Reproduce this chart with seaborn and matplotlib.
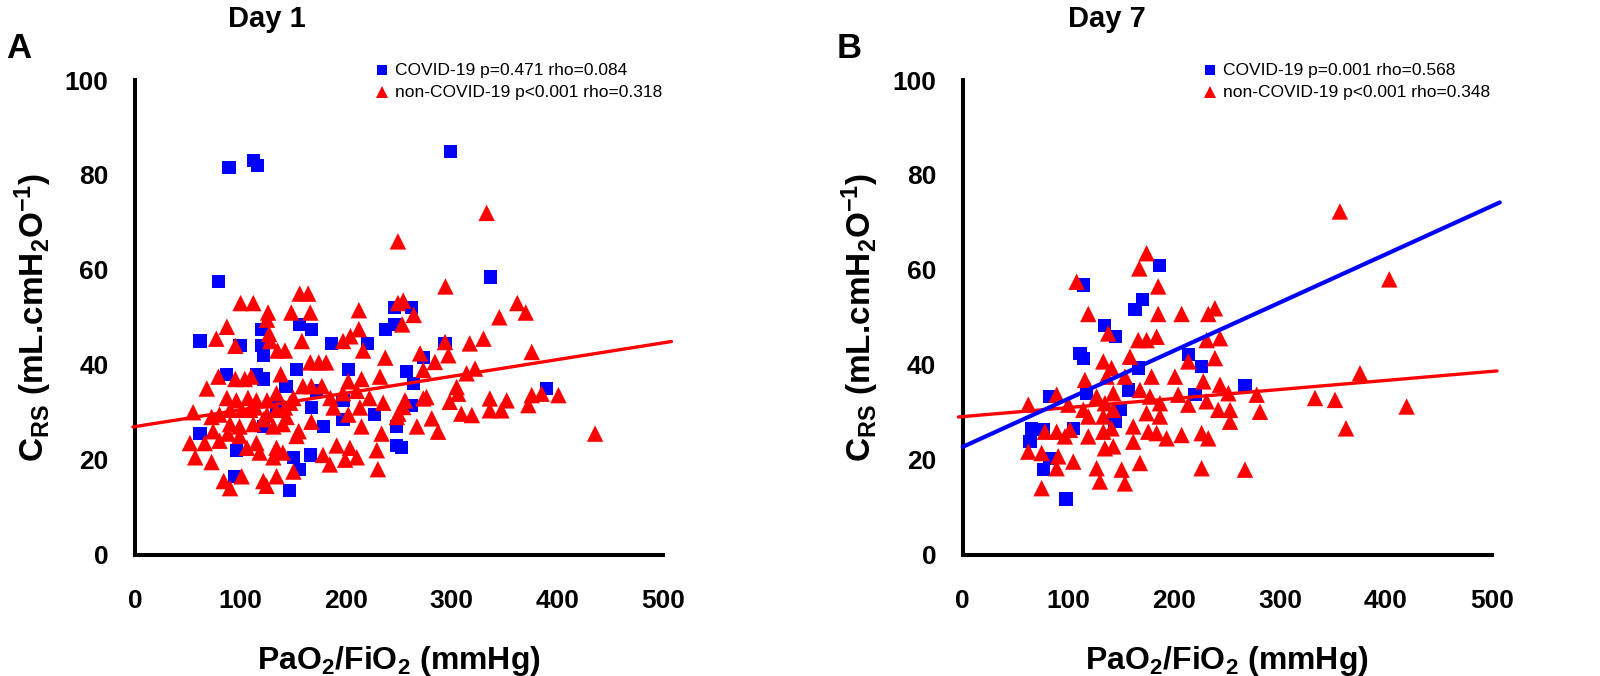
import numpy as np
import pandas as pd
import matplotlib
matplotlib.use("Agg")
import matplotlib.pyplot as plt
from matplotlib import font_manager
from matplotlib.lines import Line2D
import seaborn as sns

# ---------------- data ----------------
panel_letters = ["A", "B"]
panel_titles = ["Day 1", "Day 7"]
legend_a = ["COVID-19 p=0.471 rho=0.084", "non-COVID-19 p<0.001 rho=0.318"]
legend_b = ["COVID-19 p=0.001 rho=0.568", "non-COVID-19 p<0.001 rho=0.348"]
x_ticks = [0, 100, 200, 300, 400, 500]
y_ticks = [0, 20, 40, 60, 80, 100]

a_covid_x = [89, 112, 116, 79, 246, 298.5, 337, 262, 61.5, 99.5, 120, 122, 120, 156, 167, 186, 220, 237,
             153, 202, 87, 115, 122, 143, 171.5, 257, 167, 197, 134.5, 227, 178.5, 197, 247.5, 61.5, 96.5,
             122, 150, 156, 166, 247.5, 252.5, 94.5, 146, 390, 262, 263.5, 273, 293.5, 246]
a_covid_y = [81.5, 83, 82, 57.5, 52, 85, 58.5, 52, 45, 44, 44, 42, 47.5, 48.5, 47.5, 44.5, 44.5, 47.5,
             39, 39, 38, 38, 37, 35.5, 34.5, 38.5, 31, 32.5, 31, 29.5, 27, 28.5, 27, 25.5, 22,
             27, 20.5, 18, 21, 23, 22.5, 16.5, 13.5, 35, 31.5, 36, 41.5, 44.5, 48.5]

a_non_x = [249, 100, 112, 156, 164, 126, 148, 166, 212, 249, 254, 333, 294, 362, 370, 345, 264,
           87, 125, 253, 212, 77, 95, 127, 128, 135, 142, 158, 197, 204, 216, 237, 166, 174, 181, 138,
           68, 79, 95, 104, 110, 159, 167, 177, 202, 214.5, 232, 55, 87, 96, 107,
           80, 90, 101, 114, 125, 134, 142, 150, 147, 185, 197, 210, 222, 235, 188, 213, 202, 214.5,
           233.5, 248, 167, 52, 66, 57, 72.5, 80, 88, 99, 106, 115, 118, 134, 131, 140, 155, 153, 178,
           191, 203.5, 184.5, 199, 210, 229, 230, 150, 134, 121.5, 124.5, 101, 84, 90, 90, 99, 112,
           121.5, 131, 140, 115, 125, 134, 143.5, 72.5, 74, 109,
           293.6, 317, 330, 375.7, 270, 296.7, 284, 273, 314, 322, 304.6, 306, 298, 273, 276, 255.7,
           254, 249.4, 336, 352, 336, 347, 309, 319, 281, 267, 287, 375.7, 385, 401, 372.5, 435.7]
a_non_y = [66, 53, 53, 55, 55, 51, 51, 51, 51.5, 53, 53.5, 72, 56.5, 53, 51, 50, 50.5,
           48, 49.5, 48.5, 47.5, 45.5, 44, 46.5, 45, 43, 43, 45, 45, 46, 43, 41.5, 40.5, 40.5, 40.5, 38,
           35, 37.5, 37, 37, 37.5, 35.5, 35.5, 35.5, 36.5, 37, 37.5, 30, 33, 32.5, 33,
           29.5, 30.5, 30.5, 31, 29.5, 30.5, 31, 33, 32, 33, 34, 34.5, 33, 32, 31, 31, 29.5, 27,
           25.5, 29, 28, 23.5, 23.5, 20.5, 19.5, 24, 25.5, 25, 22.5, 23.5, 21.5, 22.5, 20.5, 21.5, 26, 25, 21,
           23, 22.5, 19, 20, 20.5, 22, 18, 17.5, 16.5, 15.5, 14.5, 16.5, 15.5, 14, 27.5, 27, 27.5,
           28.5, 27, 27.5, 32.5, 32.5, 34, 29, 29, 26, 30.5,
           44.8, 44.5, 45.5, 42.7, 42.4, 42, 40.6, 38.9, 38.2, 39.2, 35.3, 33.9, 32.2, 32.9, 33.2, 32.5,
           31.1, 29.7, 32.9, 32.5, 30.4, 30.4, 29.7, 29.4, 28.7, 27, 25.9, 33.6, 33.9, 33.6, 31.5, 25.5]

b_covid_x = [185.8, 114, 170, 162.8, 133.8, 144.8, 110.8, 114, 213.2, 225.8, 165.9, 156.5, 82.5, 117.1,
             219.5, 148.6, 143.9, 104.5, 65.1, 76.2, 63.6, 82.5, 76.2, 97.6, 266.8]
b_covid_y = [61.0, 56.8, 53.7, 51.6, 48.2, 45.9, 42.4, 41.4, 42.1, 39.6, 39.3, 34.7, 33.3, 34.0,
             33.7, 30.5, 28.0, 26.6, 26.6, 26.3, 23.8, 20.3, 17.9, 11.7, 35.6]

b_non_x = [173.8, 166.9, 107.7, 184.8, 118.7, 184.8, 206.9, 232.1, 238.4, 137.6, 165.9, 173.8, 183.3,
           158.1, 132.9, 140.7, 213.2, 238.4, 115.5, 136, 153.3, 178.5, 200.6, 227.4, 88.8, 62, 99.8,
           114, 118.7, 126.6, 134.4, 142.3, 132.9, 142.3, 167.5, 177, 186.4, 203.7, 213.2, 230.5, 241.5,
           173.8, 186.4, 161.2, 77.7, 88.8, 96.6, 101.4, 118.7, 132.9, 140.7, 134.4, 142.3, 161.2, 175.4,
           183.3, 192.7, 206.9, 225.8, 232.1, 62, 74.6, 90.3, 104.5, 88.8, 126.6, 150.2, 167.5, 225.8,
           129.7, 153.3, 74.6, 403.2, 230.6, 243.2, 243.2, 251.1, 277.9, 252.7, 281, 252.7, 333, 351.9,
           375.5, 419.6, 362.3, 266.8, 356.5]
b_non_y = [63.5, 60.3, 57.5, 56.5, 50.7, 50.7, 50.7, 50.7, 51.9, 46.6, 45.2, 45.2, 45.9,
           41.7, 40.7, 39.3, 40.7, 41.4, 36.8, 37.5, 37.5, 37.5, 37.5, 36.5, 33.7, 31.6, 31.6,
           30.5, 29.1, 33.3, 31.9, 34.0, 29.1, 30.5, 34.7, 33.3, 31.9, 33.7, 31.6, 32.3, 30.5,
           29.8, 29.1, 27.0, 25.9, 25.9, 24.9, 26.3, 24.9, 25.9, 26.6, 22.4, 22.8, 23.8, 25.9,
           25.6, 24.5, 25.2, 25.6, 24.5, 21.7, 21.4, 20.7, 19.6, 18.2, 18.2, 17.9, 19.3, 18.2,
           15.4, 15.0, 14.0, 58.0, 45.2, 45.6, 35.8, 34.0, 33.7, 30.5, 30.1, 28.0, 33.0, 32.6,
           38.2, 31.2, 26.6, 17.9, 72.3]

# regression line end points
a_non_line_x = [-2, 508]
a_non_line_y = [26.9, 44.9]
b_covid_line_x = [0, 507.6]
b_covid_line_y = [22.7, 74.2]
b_non_line_x = [-4, 505]
b_non_line_y = [29.0, 38.7]

# ---------------- style ----------------
sns.set_style("white")


def have_font(name):
    try:
        font_manager.findfont(font_manager.FontProperties(family=name), fallback_to_default=False)
        return True
    except Exception:
        return False


NARROW = "Liberation Sans Narrow" if have_font("Liberation Sans Narrow") else "Liberation Sans"
REG = "Liberation Sans"
plt.rcParams["font.family"] = [NARROW, "DejaVu Sans"]
plt.rcParams["mathtext.fontset"] = "custom"
plt.rcParams["mathtext.rm"] = NARROW + ":bold"
plt.rcParams["mathtext.bf"] = NARROW + ":bold"
plt.rcParams["mathtext.it"] = NARROW + ":bold"
for key in ["text.color", "axes.labelcolor", "xtick.color", "ytick.color", "axes.edgecolor"]:
    plt.rcParams[key] = "black"

BLUE = "#0000FF"
RED = "#FF0000"
W, H = 1600, 676

fig = plt.figure(figsize=(16, 6.76), dpi=100)
fig.patch.set_facecolor("white")

y0_px, y100_px = 554.6, 80.0
axA = fig.add_axes([135 / W, (H - y0_px) / H, 528 / W, (y0_px - y100_px) / H])
axB = fig.add_axes([962.7 / W, (H - y0_px) / H, 529 / W, (y0_px - y100_px) / H])

panels = [
    (axA, a_covid_x, a_covid_y, a_non_x, a_non_y, None, (a_non_line_x, a_non_line_y)),
    (axB, b_covid_x, b_covid_y, b_non_x, b_non_y, (b_covid_line_x, b_covid_line_y), (b_non_line_x, b_non_line_y)),
]

for ax, cx, cy, nx, ny, cline, nline in panels:
    dfc = pd.DataFrame({"x": cx, "y": cy})
    dfn = pd.DataFrame({"x": nx, "y": ny})
    sns.scatterplot(data=dfc, x="x", y="y", ax=ax, marker="s", s=90, color=BLUE,
                    edgecolor="none", linewidth=0, zorder=3)
    sns.scatterplot(data=dfn, x="x", y="y", ax=ax, marker="^", s=140, color=RED,
                    edgecolor="none", linewidth=0, zorder=4)
    sns.lineplot(x=nline[0], y=nline[1], ax=ax, color=RED, linewidth=2.4, zorder=5)
    if cline is not None:
        sns.lineplot(x=cline[0], y=cline[1], ax=ax, color=BLUE, linewidth=3.0, zorder=6)
    for ln in ax.lines:
        ln.set_clip_on(False)
    ax.set_xlim(0, 500)
    ax.set_ylim(0, 100)
    ax.set_xticks(x_ticks)
    ax.set_yticks(y_ticks)
    ax.set_xticklabels([str(t) for t in x_ticks], fontsize=19, fontweight="bold", family=NARROW)
    ax.set_yticklabels([str(t) for t in y_ticks], fontsize=19, fontweight="bold", family=NARROW)
    for side in ["top", "right"]:
        ax.spines[side].set_visible(False)
    for side in ["left", "bottom"]:
        ax.spines[side].set_linewidth(2.9)
        ax.spines[side].set_color("black")
        ax.spines[side].set_capstyle("projecting")
    ax.tick_params(axis="both", direction="out", length=16, width=2.9, color="black")
    ax.tick_params(axis="x", pad=9)
    ax.tick_params(axis="y", pad=3)
    ax.set_xlabel(r"PaO$_\mathbf{2}$/FiO$_\mathbf{2}$ (mmHg)", fontsize=23, fontweight="bold",
                  family=NARROW, labelpad=22)
    ax.set_ylabel(r"C$_\mathbf{RS}$ (mL.cmH$_\mathbf{2}$O$^\mathbf{-1}$)", fontsize=24, fontweight="bold",
                  family=NARROW, labelpad=8)
    ax.set_facecolor("white")


def fx(px):
    return px / W


def fy(py):
    return 1 - py / H


# panel letters and titles
fig.text(fx(19), fy(49), panel_letters[0], fontsize=25, fontweight="bold", family=REG, ha="center", va="center")
fig.text(fx(849), fy(49), panel_letters[1], fontsize=25, fontweight="bold", family=REG, ha="center", va="center")
fig.text(fx(267), fy(19), panel_titles[0], fontsize=21, fontweight="bold", family=NARROW, ha="center", va="center")
fig.text(fx(1107), fy(19), panel_titles[1], fontsize=21, fontweight="bold", family=NARROW, ha="center", va="center")

# legends
for (mx, leg) in [(382, legend_a), (1210, legend_b)]:
    for i, (lab, mk, col, ms) in enumerate([(leg[0], "s", BLUE, 6.5), (leg[1], "^", RED, 8.5)]):
        yy = 70 + i * 22
        fig.add_artist(Line2D([fx(mx)], [fy(yy)], marker=mk, markersize=ms, color=col,
                              markeredgewidth=0, linestyle="none", transform=fig.transFigure))
        fig.text(fx(mx + 13), fy(yy), lab, fontsize=12.5, family=REG, ha="left", va="center")

fig.savefig("out.png", dpi=100, facecolor="white")
